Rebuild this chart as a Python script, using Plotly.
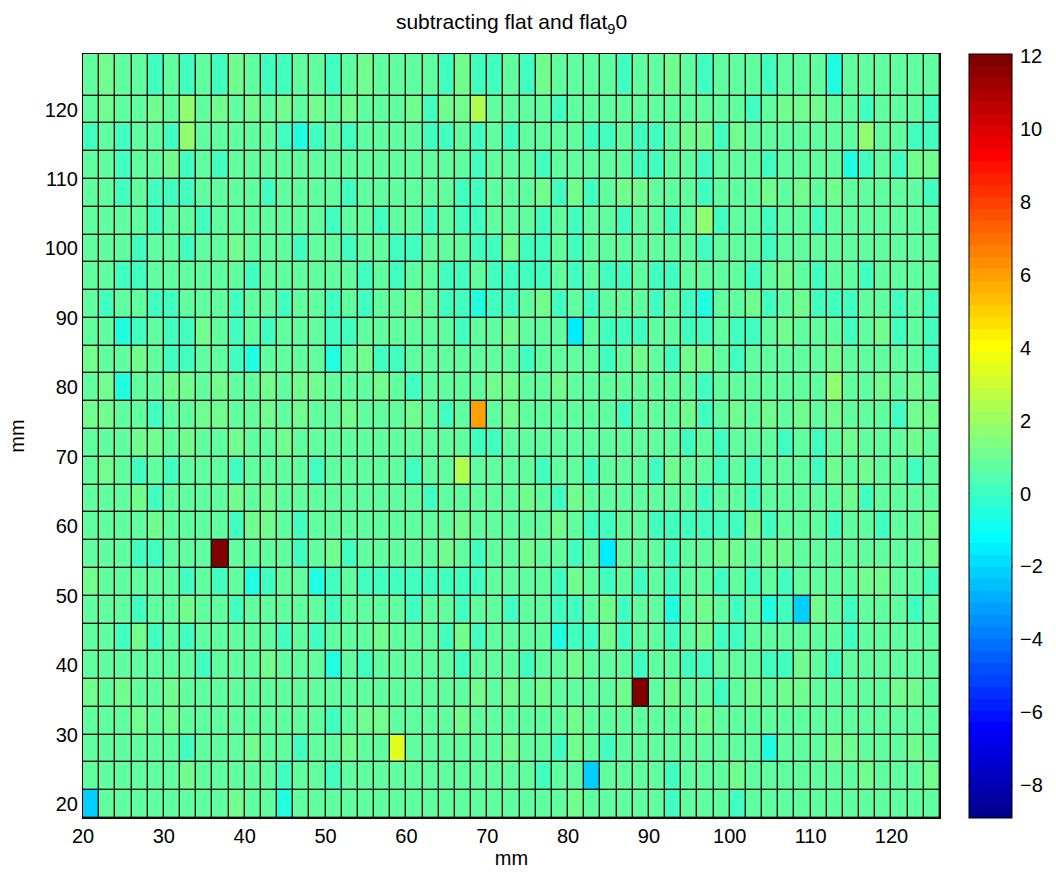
import plotly.graph_objects as go

# ---------------- data ----------------
# cell edges in mm
x_edges = list(range(20, 127, 2))            # 53 columns, 20..126
y_edges = list(range(18, 123, 4)) + [128]    # 27 rows, 18..122, last row 122..128

# code -> value
code_values = {
    "B": -2.3, "C": -1.5, "c": -0.4,
    "0": 0.15, "1": 0.65, "2": 1.15, "3": 1.7,
    "y": 2.5, "Y": 3.4, "O": 6.0, "R": 12.0,
}

# rows listed from bottom (y=18..22) to top (y=122..128), 53 columns each
row_codes = [
    "B11111111211c1111" "1111111111111211111" "01110111111111111",
    "11111121111101101" "11111111111011B1111" "01112111111121112",
    "11111101112110112" "11Y1111112110210111" "111111c1112211121",
    "11121211111111101" "2211112111111211111" "11211111111111111",
    "21211211111111111" "11111112121211112R1" "21101212211111221",
    "111111101112111c1" "0111110111011211101" "10011100210111111",
    "11020101111101011" "121110201111c002011" "01200111111011111",
    "11101121101111101" "1110110110110012011" "c12101c0B21011101",
    "2111110101c011c01" "0000000011110210101" "01101010111122110",
    "11100111R11110120" "111112101121101C111" "01122122111111112",
    "11112111102210111" "1111112111112100110" "00000201110110112",
    "11120111121211111" "1111011111210211111" "11011011111201111",
    "12101011101111011" "111011y111101101110" "21101011102121101",
    "11122121121121111" "1111111001111111111" "10101110101211121",
    "22110112211212112" "1112101O12111111011" "12012121212111022",
    "12c11221211212211" "1210111122112111111" "11011111113112121",
    "2112100110c1111c1" "2001111111011110121" "02210111112111110",
    "11c01002101011100" "1111110112111C10001" "10010012111012010",
    "10110011101101101" "0112100c00120101110" "10c11201200011010",
    "11001111110111111" "0101100100001010010" "01111012101101111",
    "11101101121110110" "1100111002001011111" "11011101111111111",
    "11110110111111101" "1011010011101011011" "01301101101111111",
    "11010001111011110" "1111110011120201221" "11011121212111110",
    "11011201011111111" "1111111011101111100" "11011101111c01022",
    "0101103111110c010" "1111001010111100100" "12202111111131100",
    "12112131212121212" "1112022y11110111111" "11111012221101110",
    "12110101021001101" "2111102001021111011" "2101110111c111111",
]

z_min, z_max = -8.9, 12.06
x_ticks = list(range(20, 121, 10))
y_ticks = list(range(20, 121, 10))
cbar_ticks = list(range(-8, 13, 2))

title_text = "subtracting flat and flat<sub>9</sub>0"
x_label = "mm"
y_label = "mm"

# ---------------- MATLAB jet(64) colormap ----------------
def jet(m=64):
    n = -(-m // 4)
    u = [i / n for i in range(1, n + 1)] + [1.0] * (n - 1) + [i / n for i in range(n, 0, -1)]
    g0 = -(-n // 2) - (1 if m % 4 == 1 else 0)
    J = [[0.0, 0.0, 0.0] for _ in range(m)]
    for k, uk in enumerate(u):
        g = g0 + k + 1
        r = g + n
        b = g - n
        if 1 <= r <= m:
            J[r - 1][0] = uk
        if 1 <= g <= m:
            J[g - 1][1] = uk
        if 1 <= b <= m:
            J[b - 1][2] = uk
    return J

cmap = jet(64)
colorscale = []
for i, (r, g, b) in enumerate(cmap):
    col = f"rgb({round(r*255)},{round(g*255)},{round(b*255)})"
    colorscale.append([i / 64, col])
    colorscale.append([(i + 1) / 64, col])

z = [[code_values[ch] for ch in row] for row in row_codes]

FONT = "Liberation Sans, Arial, Helvetica, sans-serif"

# ---------------- layout geometry (pixels) ----------------
W, H = 1056, 875
L, R, T, B = 83, 110, 54, 57
plot_w = W - L - R
cb_left_px, cb_right_px = 975, 1019
cb_x = (cb_left_px - L) / plot_w

fig = go.Figure(
    go.Heatmap(
        x=x_edges,
        y=y_edges,
        z=z,
        zmin=z_min,
        zmax=z_max,
        colorscale=colorscale,
        xgap=1.4,
        ygap=1.4,
        colorbar=dict(
            x=cb_x,
            xanchor="left",
            xpad=0,
            ypad=0,
            y=0.5,
            yanchor="middle",
            len=1,
            lenmode="fraction",
            thickness=cb_right_px - cb_left_px - 1,
            thicknessmode="pixels",
            outlinewidth=1,
            outlinecolor="black",
            tickvals=cbar_ticks,
            ticks="outside",
            ticklen=4,
            tickcolor="rgba(0,0,0,0)",
            tickfont=dict(family=FONT, size=20, color="black"),
        ),
    )
)

# inward colorbar tick marks on both sides (MATLAB style)
tick_len_px = 6
shapes = []
for v in cbar_ticks:
    yv = (v - z_min) / (z_max - z_min)
    for x0p, x1p in ((cb_left_px, cb_left_px + tick_len_px), (cb_right_px - tick_len_px, cb_right_px)):
        shapes.append(dict(
            type="line", xref="paper", yref="paper",
            x0=(x0p - L) / plot_w, x1=(x1p - L) / plot_w, y0=yv, y1=yv,
            line=dict(color="black", width=1),
        ))

fig.update_layout(
    width=W,
    height=H,
    margin=dict(l=L, r=R, t=T, b=B),
    paper_bgcolor="white",
    plot_bgcolor="#111111",
    font=dict(family=FONT, size=20, color="black"),
    shapes=shapes,
    title=dict(
        text=title_text,
        x=0.5,
        xref="paper",
        xanchor="center",
        y=1 - 22 / H,
        yref="container",
        yanchor="middle",
        font=dict(family=FONT, size=21, color="black"),
    ),
    xaxis=dict(
        range=[20, 126],
        tickvals=x_ticks,
        ticks="",
        showgrid=False,
        zeroline=False,
        showline=True,
        linecolor="black",
        linewidth=1,
        mirror=True,
        title=dict(text=x_label, standoff=0, font=dict(size=20)),
        tickfont=dict(size=20),
    ),
    yaxis=dict(
        range=[18, 128],
        tickvals=y_ticks,
        ticks="",
        showgrid=False,
        zeroline=False,
        showline=True,
        linecolor="black",
        linewidth=1,
        mirror=True,
        title=dict(text=y_label, standoff=14, font=dict(size=20)),
        tickfont=dict(size=20),
    ),
)

fig.write_html("out.html")
